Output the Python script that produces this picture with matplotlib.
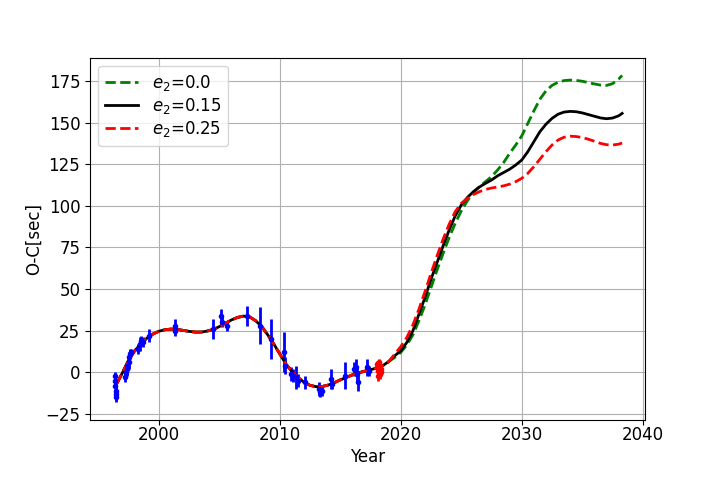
import numpy as np
import matplotlib
matplotlib.use('Agg')
import matplotlib.pyplot as plt

plt.rcParams['font.size'] = 12

# model curves
yrs = [1996.5, 1997, 1997.5, 1998, 1998.5, 1999, 1999.5, 2000, 2000.5, 2001, 2001.5,
       2002, 2002.5, 2003, 2003.5, 2004, 2004.5, 2005, 2005.5, 2006, 2006.5, 2007,
       2007.5, 2008, 2008.5, 2009, 2009.5, 2010, 2010.5, 2011, 2011.5, 2012, 2012.5,
       2013, 2013.5, 2014, 2014.5, 2015, 2015.5, 2016, 2016.5, 2017, 2017.5, 2018,
       2018.5, 2019, 2019.5, 2020, 2020.5, 2021, 2021.5, 2022, 2022.5, 2023, 2023.5,
       2024, 2024.5, 2025, 2025.5, 2026, 2026.5, 2027, 2027.5, 2028, 2028.5, 2029,
       2029.5, 2030, 2030.5, 2031, 2031.5, 2032, 2032.5, 2033, 2033.5, 2034, 2034.5,
       2035, 2035.5, 2036, 2036.5, 2037, 2037.5, 2038, 2038.3]

past = [-7, 0, 7.5, 13, 17, 20.5, 23, 24.7, 25.6, 26, 25.8,
        25.2, 24.6, 24.2, 24.2, 24.8, 25.8, 27.5, 29.5, 31.5, 33, 33.8,
        33.3, 31, 27.5, 22.5, 17, 11, 5, 0.5, -3, -6, -7.8,
        -8.6, -8.5, -7.6, -6.2, -4.5, -3, -1.5, -0.3, 0.7, 1.6, 2.6,
        4, 6.5]

oc_e00 = past + [9, 12, 16.5, 22.5, 31, 40.5, 51, 61.5, 71.5,
                 81, 89.5, 97, 103, 108, 111.5, 114.5, 117.5, 121.5, 126, 131.5,
                 136.5, 142, 149.5, 157, 164, 169, 172.3, 174.2, 175.2, 175.5, 175.3,
                 174.8, 174, 173.2, 172.5, 172.3, 173.3, 176, 178.3]
oc_e15 = past + [10, 13, 18, 25, 35, 45, 56, 66, 76,
                 85.5, 94, 100.5, 105, 108.5, 111.3, 113.5, 115.5, 118, 120, 122,
                 124.5, 127.5, 132.5, 138.5, 144.5, 149, 152.5, 155, 156.3, 156.7, 156.5,
                 155.8, 154.8, 153.8, 152.8, 152.3, 152.7, 154, 155.5]
oc_e25 = past + [11, 15.5, 21, 28.5, 38, 48.5, 59.5, 70, 80,
                 89, 96.5, 101.5, 104.5, 106.8, 108.5, 109.8, 110.7, 111.3, 112, 113,
                 114.5, 116.5, 119.5, 123.5, 128, 132.5, 136.5, 139.5, 141.2, 141.8, 141.6,
                 141, 140, 138.8, 137.5, 136.7, 136.5, 137, 137.7]

# observed timings
obs_yr = [1996.35, 1996.38, 1996.40, 1996.42, 1996.45, 1996.47, 1997.2, 1997.3, 1997.35,
          1997.4, 1997.5, 1997.55, 1997.6, 1997.7, 1998.3, 1998.4, 1998.5, 1998.7, 1999.2,
          2001.3, 2001.35, 2004.5, 2005.1, 2005.2, 2005.6, 2007.3, 2008.35, 2009.3, 2010.3,
          2010.45, 2010.9, 2011.1, 2011.3, 2011.5, 2012.1, 2013.2, 2013.3, 2013.45, 2014.2,
          2014.35, 2015.4, 2016.15, 2016.3, 2016.4, 2016.5, 2017.2, 2017.4]
obs_oc = [-2, -5, -8, -11, -13, -15, -3, 0, 2,
          4, 6, 9, 11, 12, 14, 17, 19, 18, 22,
          28, 25, 26, 34, 30, 28, 34, 28, 20, 12,
          4, -1, -2, -3, -5, -6, -10, -12, -11, -4,
          -7, -2, 2, 3, -1, -6, 3, 1]
obs_err = [2, 2.5, 2, 3, 3.5, 2.5, 3, 3, 4,
           3, 4, 3, 3, 2, 3, 4, 3, 3, 4,
           4, 3, 6, 4, 3, 3, 6, 11, 12, 12,
           5, 4, 4, 7, 4, 4, 4, 3, 3, 6,
           3, 8, 4, 5, 4, 5, 5, 3]

new_yr = [2018.0, 2018.05, 2018.1, 2018.15, 2018.2, 2018.25, 2018.3, 2018.35, 2018.4]
new_oc = [5, 3, 1, -2, 6, 4, -1, 2, 0]
new_err = [2, 3, 2, 3, 2, 2, 3, 2, 2]

fig, ax = plt.subplots(figsize=(7.2, 4.8), dpi=100)
fig.subplots_adjust(left=0.125, right=0.896, bottom=0.125, top=0.88)

ax.errorbar(obs_yr, obs_oc, yerr=obs_err, fmt='b.', elinewidth=2, capsize=0)
ax.errorbar(new_yr, new_oc, yerr=new_err, fmt='r.', elinewidth=2, capsize=0)

ax.plot(yrs, oc_e00, 'g--', lw=2, label='$e_2$=0.0')
ax.plot(yrs, oc_e15, 'k-', lw=2, label='$e_2$=0.15')
ax.plot(yrs, oc_e25, 'r--', lw=2, label='$e_2$=0.25')

ax.set_xlim(1994.3, 2040.2)
ax.set_ylim(-28.6, 189)
ax.tick_params(axis='x', pad=1)
ax.set_xlabel('Year', labelpad=2.5)
ax.set_ylabel('O-C[sec]', labelpad=2)
ax.grid(True)
ax.legend(loc='upper left', labelspacing=0.2)

plt.savefig('out.png')
